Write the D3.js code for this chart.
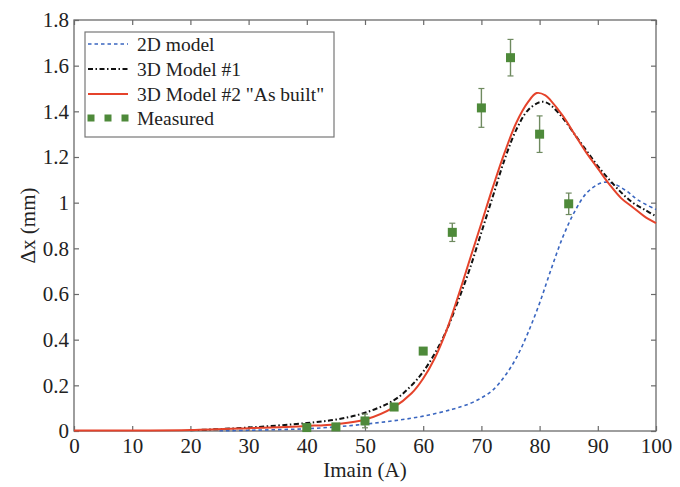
<!DOCTYPE html>
<html>
<head>
<meta charset="utf-8">
<script src="https://cdn.jsdelivr.net/npm/d3@7"></script>
<style>
  html, body { margin: 0; padding: 0; background: #fff; }
  svg { display: block; font-family: "Liberation Serif", "DejaVu Serif", serif; }
</style>
</head>
<body>
<svg id="chart" width="680" height="487"></svg>
<script>
// Displacement Δx versus main current: three models and measurements
const xTicks = [0, 10, 20, 30, 40, 50, 60, 70, 80, 90, 100];
const yTicks = [0, 0.2, 0.4, 0.6, 0.8, 1, 1.2, 1.4, 1.6, 1.8];

const model2DI  = [25, 30, 35, 40, 45, 50, 55, 60, 65, 68, 70, 72, 74, 76, 78, 80, 82, 84, 86, 88, 90, 91.5, 93, 95, 97, 100];
const model2DDx = [0.001, 0.003, 0.006, 0.01, 0.018, 0.03, 0.045, 0.065, 0.095, 0.12, 0.145, 0.18, 0.24, 0.32, 0.43, 0.56, 0.71, 0.85, 0.96, 1.04, 1.08, 1.09, 1.08, 1.05, 1.01, 0.97];

const model3D1I  = [20, 30, 40, 45, 50, 55, 58, 60, 62, 64, 66, 68, 70, 72, 74, 76, 78, 80, 81, 82, 84, 86, 88, 90, 92, 94, 96, 98, 100];
const model3D1Dx = [0.003, 0.015, 0.035, 0.05, 0.08, 0.135, 0.2, 0.26, 0.34, 0.44, 0.57, 0.71, 0.87, 1.03, 1.19, 1.32, 1.405, 1.44, 1.44, 1.425, 1.37, 1.3, 1.23, 1.16, 1.1, 1.045, 1.0, 0.97, 0.94];

const model3D2I  = [0, 10, 20, 30, 40, 45, 50, 55, 58, 60, 62, 64, 66, 68, 70, 72, 74, 76, 78, 79.5, 81, 82, 84, 86, 88, 90, 92, 94, 96, 98, 100];
const model3D2Dx = [0.002, 0.002, 0.004, 0.012, 0.022, 0.03, 0.05, 0.105, 0.165, 0.23, 0.32, 0.44, 0.59, 0.75, 0.91, 1.07, 1.22, 1.35, 1.44, 1.48, 1.47, 1.445, 1.38, 1.3, 1.22, 1.15, 1.08, 1.02, 0.98, 0.94, 0.91];

const measuredI   = [40, 45, 50, 55, 60, 65, 70, 75, 80, 85];
const measuredDx  = [0.015, 0.018, 0.044, 0.105, 0.35, 0.87, 1.415, 1.635, 1.30, 0.995];
const measuredErr = [0.01, 0.01, 0.03, 0.01, 0.01, 0.04, 0.085, 0.08, 0.08, 0.047];

const legendLabels = ["2D model", "3D Model #1", "3D Model #2 \"As built\"", "Measured"];
const xLabel = "Imain (A)";
const yLabel = "Δx (mm)";

const svg = d3.select("#chart");
const m = { left: 74, right: 24, top: 20, bottom: 56 };
const W = 680, H = 487;
const x = d3.scaleLinear().domain([0, 100]).range([m.left, W - m.right]);
const y = d3.scaleLinear().domain([0, 1.8]).range([H - m.bottom, m.top]);

const axisColor = "#6a6a6a";
const textColor = "#222";

// frame
svg.append("rect")
  .attr("x", x(0)).attr("y", y(1.8))
  .attr("width", x(100) - x(0)).attr("height", y(0) - y(1.8))
  .attr("fill", "none").attr("stroke", axisColor).attr("stroke-width", 1.3);

function styleAxis(g) {
  g.select(".domain").remove();
  g.selectAll(".tick line").attr("stroke", axisColor).attr("stroke-width", 1.2);
  g.selectAll(".tick text").attr("fill", textColor).style("font-size", "21px")
    .style("font-family", "'Liberation Serif', serif");
}

svg.append("g").attr("transform", `translate(0,${y(0)})`)
  .call(d3.axisBottom(x).tickValues(xTicks).tickFormat(d => String(d)).tickSize(-5).tickPadding(7))
  .call(styleAxis);
svg.append("g").attr("transform", `translate(0,${y(1.8)})`)
  .call(d3.axisTop(x).tickValues(xTicks).tickFormat("").tickSize(-5))
  .call(styleAxis);
svg.append("g").attr("transform", `translate(${x(0)},0)`)
  .call(d3.axisLeft(y).tickValues(yTicks).tickFormat(d => String(d)).tickSize(-5).tickPadding(5))
  .call(styleAxis);
svg.append("g").attr("transform", `translate(${x(100)},0)`)
  .call(d3.axisRight(y).tickValues(yTicks).tickFormat("").tickSize(-5))
  .call(styleAxis);

// axis titles
svg.append("text")
  .attr("x", (x(0) + x(100)) / 2).attr("y", 477)
  .attr("text-anchor", "middle").attr("fill", textColor)
  .style("font-size", "21px").text(xLabel);
svg.append("text")
  .attr("transform", `translate(35,${(y(0) + y(1.8)) / 2}) rotate(-90)`)
  .attr("text-anchor", "middle").attr("fill", textColor)
  .style("font-size", "21px").text(yLabel);

const line = d3.line().x(d => x(d[0])).y(d => y(d[1])).curve(d3.curveCatmullRom.alpha(0.5));
const zip = (a, b) => a.map((v, i) => [v, b[i]]);

const plot = svg.append("g");
const series = [
  { name: legendLabels[0], I: model2DI, dx: model2DDx, color: "#3a66c0", width: 1.6, dash: "3.5,3" },
  { name: legendLabels[1], I: model3D1I, dx: model3D1Dx, color: "#111", width: 2, dash: "5,2.5,1.5,2.5" },
  { name: legendLabels[2], I: model3D2I, dx: model3D2Dx, color: "#e5432b", width: 2, dash: null }
];
series.forEach(s => {
  plot.append("path")
    .datum(zip(s.I, s.dx))
    .attr("d", line)
    .attr("fill", "none")
    .attr("stroke", s.color)
    .attr("stroke-width", s.width)
    .attr("stroke-dasharray", s.dash);
});

// measured points with error bars
const meas = measuredI.map((v, i) => ({ I: v, dx: measuredDx[i], e: measuredErr[i] }));
const errColor = "#6f8a60";
const eg = plot.selectAll(".err").data(meas).enter().append("g");
eg.append("line")
  .attr("x1", d => x(d.I)).attr("x2", d => x(d.I))
  .attr("y1", d => y(d.dx - d.e)).attr("y2", d => y(d.dx + d.e))
  .attr("stroke", errColor).attr("stroke-width", 1.4);
eg.filter(d => d.e > 0.02).append("line")
  .attr("x1", d => x(d.I) - 3).attr("x2", d => x(d.I) + 3)
  .attr("y1", d => y(d.dx + d.e)).attr("y2", d => y(d.dx + d.e))
  .attr("stroke", errColor).attr("stroke-width", 1.2);
eg.filter(d => d.e > 0.02).append("line")
  .attr("x1", d => x(d.I) - 3).attr("x2", d => x(d.I) + 3)
  .attr("y1", d => y(d.dx - d.e)).attr("y2", d => y(d.dx - d.e))
  .attr("stroke", errColor).attr("stroke-width", 1.2);
const sq = 9;
plot.selectAll(".pt").data(meas).enter().append("rect")
  .attr("x", d => x(d.I) - sq / 2).attr("y", d => y(d.dx) - sq / 2)
  .attr("width", sq).attr("height", sq)
  .attr("fill", "#4e8a3a");

// legend
const lg = svg.append("g");
lg.append("rect")
  .attr("x", 85).attr("y", 32).attr("width", 249).attr("height", 105)
  .attr("fill", "#fff").attr("stroke", "#777").attr("stroke-width", 1.2);
const rowY = [44, 69, 94, 118];
series.forEach((s, i) => {
  lg.append("line")
    .attr("x1", 88).attr("x2", 128).attr("y1", rowY[i]).attr("y2", rowY[i])
    .attr("stroke", s.color).attr("stroke-width", s.width)
    .attr("stroke-dasharray", s.dash);
});
[91, 108, 125].forEach(cx => {
  lg.append("rect").attr("x", cx - 3.5).attr("y", rowY[3] - 3.5)
    .attr("width", 7).attr("height", 7).attr("fill", "#4e8a3a");
});
legendLabels.forEach((t, i) => {
  lg.append("text")
    .attr("x", 137).attr("y", rowY[i]).attr("dy", "0.35em")
    .attr("fill", textColor).style("font-size", "19.5px").text(t);
});
</script>
</body>
</html>
